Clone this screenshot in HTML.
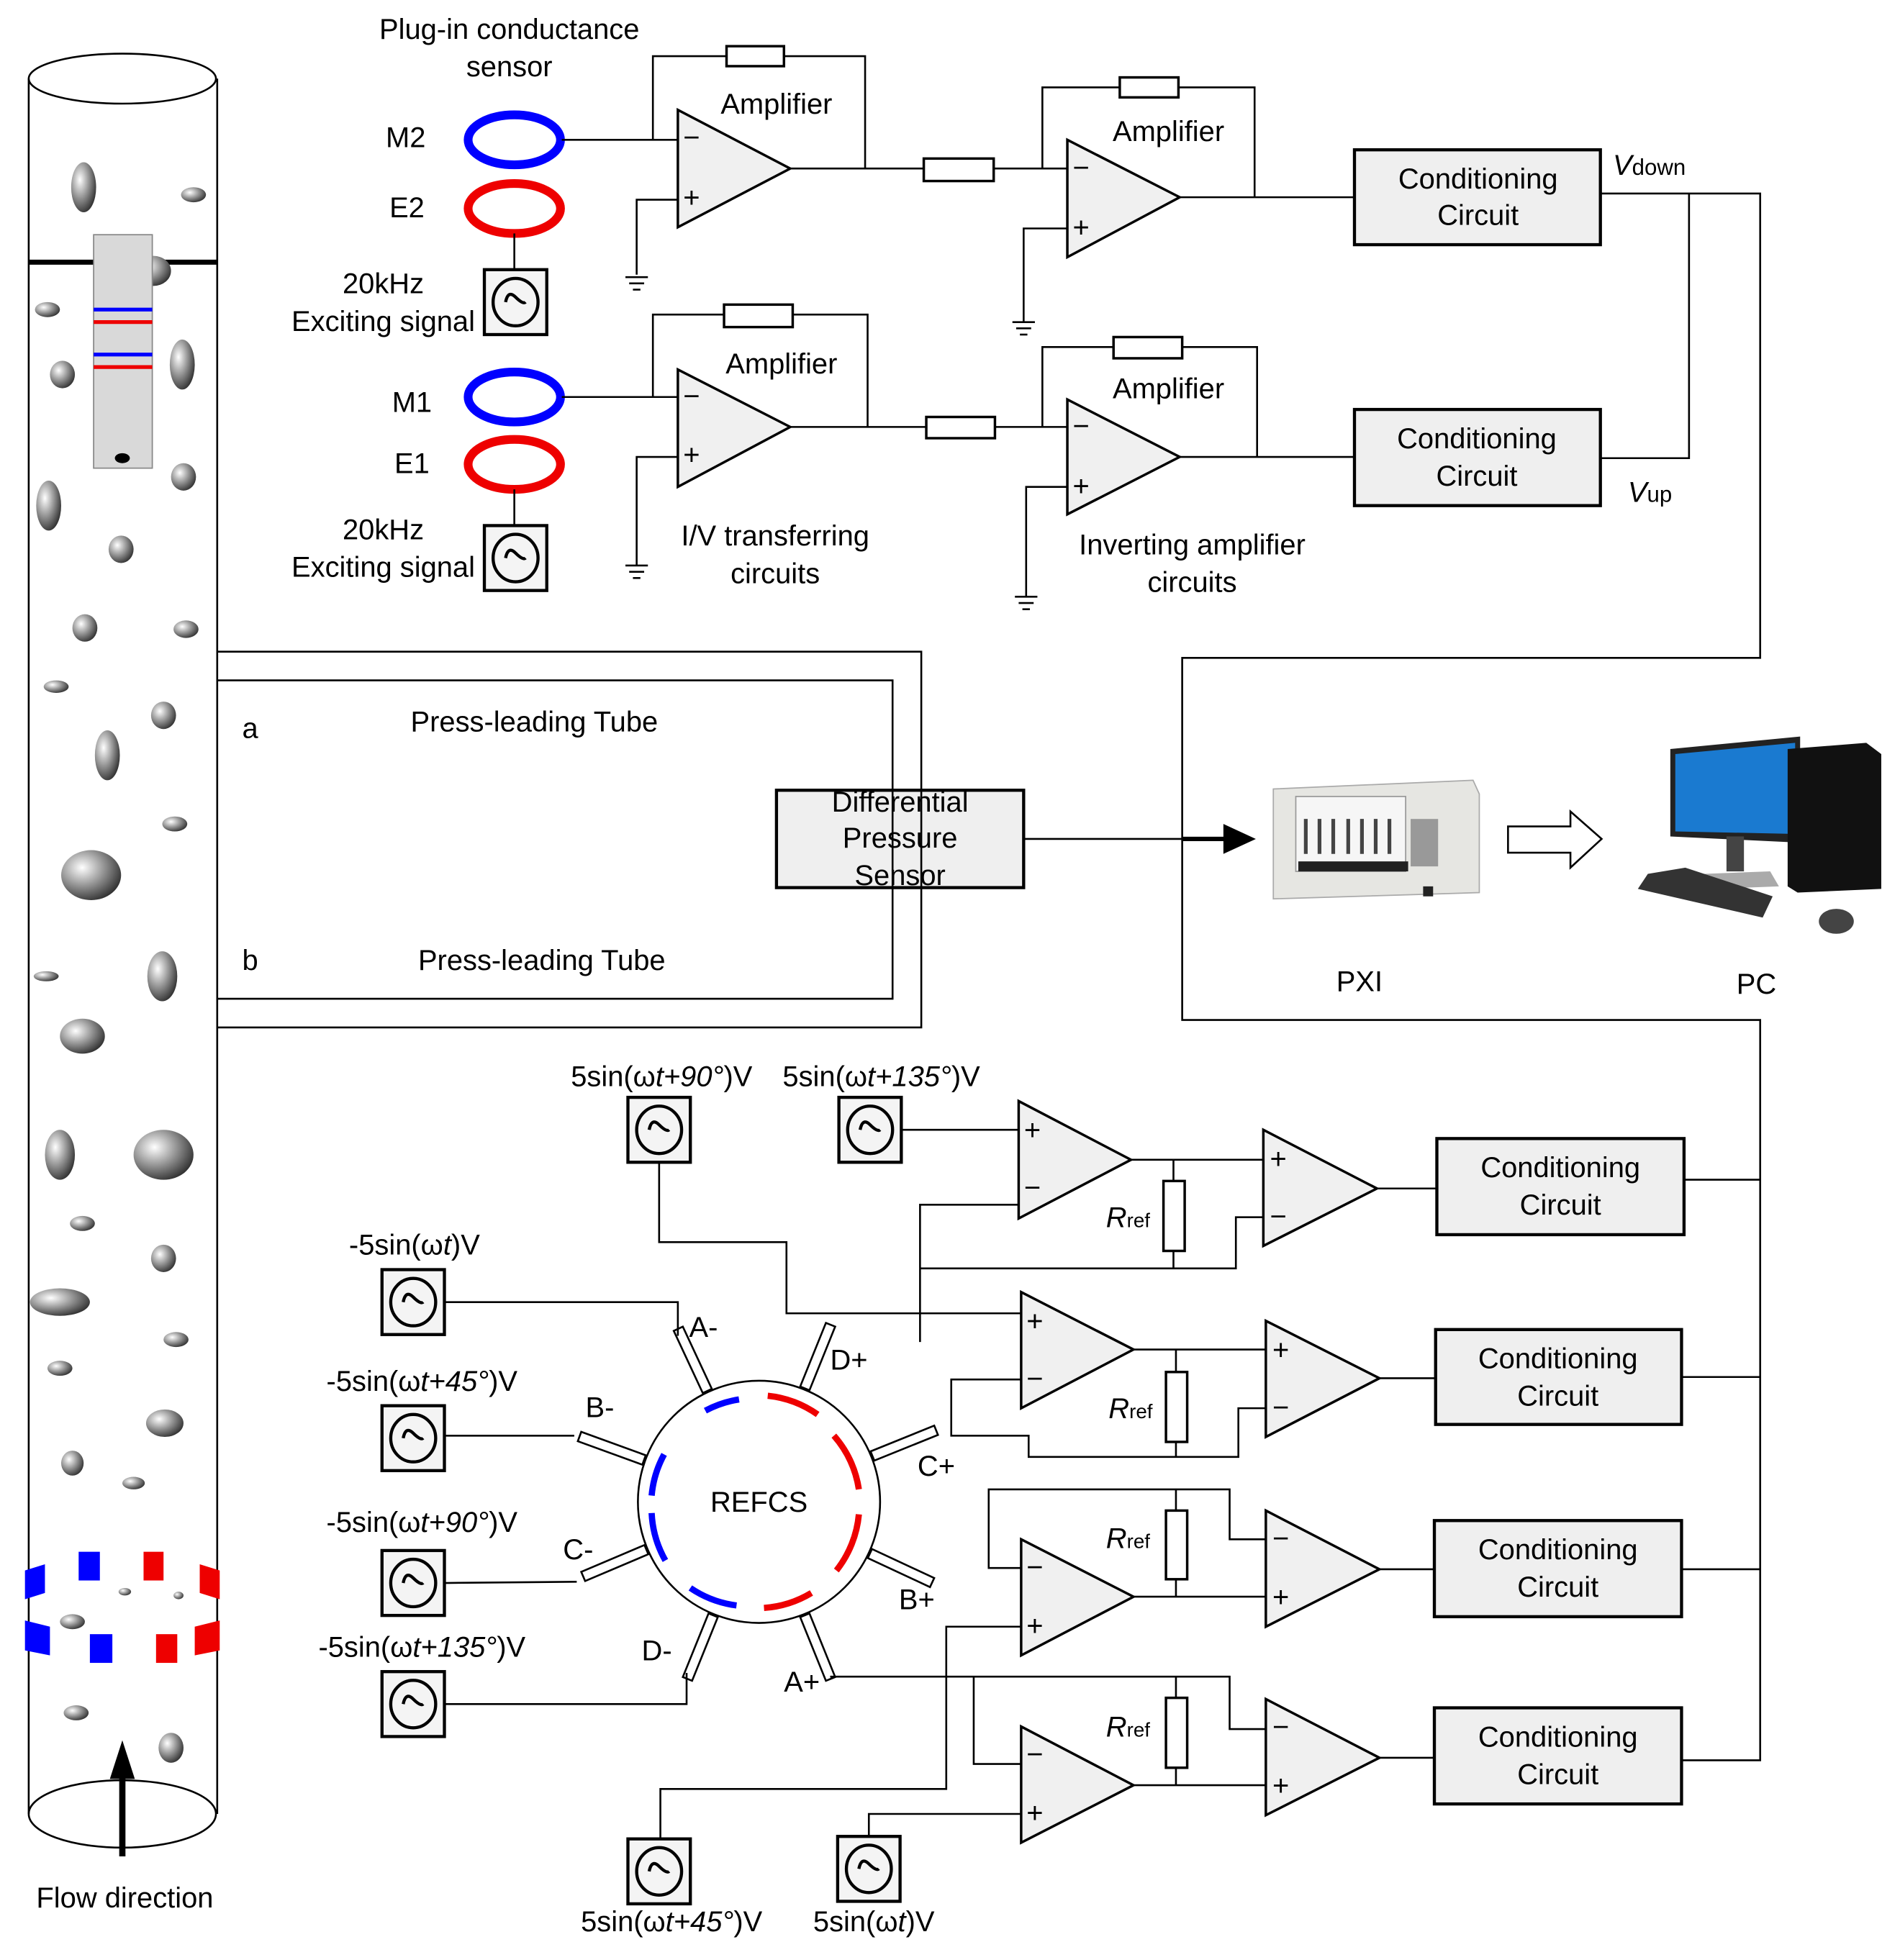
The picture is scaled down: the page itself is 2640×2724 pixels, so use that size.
<!DOCTYPE html>
<html><head><meta charset="utf-8"><style>
html,body{margin:0;padding:0;background:#fff}
svg{display:block}
text{font-family:"Liberation Sans",sans-serif;font-size:23px;fill:#000}
.c{text-anchor:middle}
</style></head><body>
<svg width="2640" height="2724" viewBox="0 0 1522 1570" preserveAspectRatio="none" xmlns="http://www.w3.org/2000/svg">
<defs>
<radialGradient id="bg" cx="0.35" cy="0.35" r="0.7"><stop offset="0" stop-color="#fff"/><stop offset="0.5" stop-color="#999"/><stop offset="1" stop-color="#333"/></radialGradient>
<g id="src"><rect x="0" y="0" width="50" height="52" fill="#f4f4f4" stroke="#000" stroke-width="2.5"/><ellipse cx="25" cy="26" rx="18" ry="19" fill="none" stroke="#000" stroke-width="2.5"/><path d="M17 26 Q19 16 25 22 T33 26" fill="none" stroke="#000" stroke-width="2.5"/></g>
<g id="gnd" stroke="#000" stroke-width="1.5"><line x1="-9" y1="0" x2="9" y2="0"/><line x1="-6" y1="5" x2="6" y2="5"/><line x1="-3" y1="10" x2="3" y2="10"/></g>
</defs>
<g fill="none" stroke="#000" stroke-width="1.5">
<ellipse cx="98" cy="63" rx="75" ry="20"/>
<line x1="23" y1="63" x2="23" y2="1453"/><line x1="174" y1="63" x2="174" y2="1453"/>
<ellipse cx="98" cy="1453" rx="75" ry="27"/>
</g>
<line x1="23" y1="210" x2="174" y2="210" stroke="#000" stroke-width="4"/>
<g fill="url(#bg)">
<ellipse cx="67" cy="150" rx="10" ry="20"/><ellipse cx="155" cy="156" rx="10" ry="6"/><ellipse cx="38" cy="248" rx="10" ry="6"/><ellipse cx="50" cy="300" rx="10" ry="11"/><ellipse cx="146" cy="292" rx="10" ry="20"/><ellipse cx="147" cy="382" rx="10" ry="11"/><ellipse cx="39" cy="405" rx="10" ry="20"/><ellipse cx="97" cy="440" rx="10" ry="11"/><ellipse cx="68" cy="503" rx="10" ry="11"/><ellipse cx="149" cy="504" rx="10" ry="7"/><ellipse cx="45" cy="550" rx="10" ry="5"/><ellipse cx="131" cy="573" rx="10" ry="11"/><ellipse cx="86" cy="605" rx="10" ry="20"/><ellipse cx="140" cy="660" rx="10" ry="6"/><ellipse cx="73" cy="701" rx="24" ry="20"/><ellipse cx="130" cy="782" rx="12" ry="20"/><ellipse cx="37" cy="782" rx="10" ry="4"/><ellipse cx="66" cy="830" rx="18" ry="14"/><ellipse cx="48" cy="925" rx="12" ry="20"/><ellipse cx="131" cy="925" rx="24" ry="20"/><ellipse cx="66" cy="980" rx="10" ry="6"/><ellipse cx="131" cy="1008" rx="10" ry="11"/><ellipse cx="48" cy="1043" rx="24" ry="11"/><ellipse cx="141" cy="1073" rx="10" ry="6"/><ellipse cx="48" cy="1096" rx="10" ry="6"/><ellipse cx="132" cy="1140" rx="15" ry="11"/><ellipse cx="58" cy="1172" rx="9" ry="10"/><ellipse cx="107" cy="1188" rx="9" ry="5"/><ellipse cx="61" cy="1372" rx="10" ry="6"/><ellipse cx="137" cy="1400" rx="10" ry="12"/><ellipse cx="100" cy="1275" rx="5" ry="3"/><ellipse cx="143" cy="1278" rx="4" ry="3"/><ellipse cx="58" cy="1299" rx="10" ry="6"/><ellipse cx="123" cy="217" rx="14" ry="12"/>
</g>
<rect x="75" y="188" width="47" height="187" fill="#d9d9d9" stroke="#888" stroke-width="1"/>
<line x1="75" y1="248" x2="122" y2="248" stroke="#00f" stroke-width="3"/><line x1="75" y1="258" x2="122" y2="258" stroke="#e00" stroke-width="3"/>
<line x1="75" y1="284" x2="122" y2="284" stroke="#00f" stroke-width="3"/><line x1="75" y1="294" x2="122" y2="294" stroke="#e00" stroke-width="3"/>
<ellipse cx="98" cy="367" rx="6" ry="4" fill="#000"/>
<g fill="#00f"><polygon points="20,1258 36,1253 36,1276 20,1281"/><rect x="63" y="1243" width="17" height="23"/><polygon points="20,1298 40,1303 40,1326 20,1322"/><rect x="72" y="1309" width="18" height="23"/></g>
<g fill="#e00"><rect x="115" y="1243" width="16" height="23"/><polygon points="160,1253 176,1258 176,1281 160,1276"/><rect x="125" y="1309" width="17" height="23"/><polygon points="156,1303 176,1298 176,1322 156,1326"/></g>
<line x1="98" y1="1487" x2="98" y2="1420" stroke="#000" stroke-width="5"/><polygon points="98,1394 88,1425 108,1425" fill="#000"/>
<text x="100" y="1528" class="c">Flow direction</text>

<g fill="none" stroke-width="7"><ellipse cx="412" cy="112" rx="37" ry="20" stroke="#00f"/><ellipse cx="412" cy="167" rx="37" ry="20" stroke="#e00"/><ellipse cx="412" cy="318" rx="37" ry="20" stroke="#00f"/><ellipse cx="412" cy="372" rx="37" ry="20" stroke="#e00"/></g>
<use href="#src" x="388" y="216"/><use href="#src" x="388" y="421"/>
<line x1="412" y1="187" x2="412" y2="216" stroke="#000" stroke-width="1.5"/><line x1="412" y1="392" x2="412" y2="421" stroke="#000" stroke-width="1.5"/>
<g fill="#f0f0f0" stroke="#000" stroke-width="2">
<polygon points="543,88 543,182 633,135"/><polygon points="855,112 855,206 945,158"/>
<polygon points="543,296 543,390 633,342"/><polygon points="855,320 855,412 945,366"/>
</g>
<g fill="none" stroke="#000" stroke-width="1.5">
<polyline points="450,112 543,112"/><polyline points="523,112 523,45 693,45 693,135"/><polyline points="543,160 510,160 510,220"/>
<polyline points="633,135 855,135"/><polyline points="835,135 835,70 1005,70 1005,158"/><polyline points="855,183 820,183 820,258"/>
<polyline points="945,158 1085,158"/>
<polyline points="450,318 543,318"/><polyline points="523,318 523,252 695,252 695,342"/><polyline points="543,366 510,366 510,453"/>
<polyline points="633,342 855,342"/><polyline points="835,342 835,278 1007,278 1007,366"/><polyline points="855,390 822,390 822,478"/>
<polyline points="945,366 1085,366"/>
<polyline points="1282,155 1410,155 1410,527 947,527 947,817 1410,817 1410,1410 1347,1410"/>
<polyline points="1282,367 1353,367 1353,155"/>
<line x1="1349" y1="945" x2="1410" y2="945"/><line x1="1347" y1="1103" x2="1410" y2="1103"/><line x1="1347" y1="1257" x2="1410" y2="1257"/>
</g>
<g fill="#fff" stroke="#000" stroke-width="2">
<rect x="582" y="37" width="46" height="16"/><rect x="740" y="127" width="56" height="18"/><rect x="897" y="62" width="47" height="16"/>
<rect x="580" y="244" width="55" height="18"/><rect x="742" y="334" width="55" height="17"/><rect x="892" y="270" width="55" height="17"/>
</g>
<use href="#gnd" x="510" y="222"/><use href="#gnd" x="820" y="258"/><use href="#gnd" x="510" y="453"/><use href="#gnd" x="822" y="478"/>
<g fill="#efefef" stroke="#000" stroke-width="2.5">
<rect x="1085" y="120" width="197" height="76"/><rect x="1085" y="328" width="197" height="77"/>
<rect x="622" y="633" width="198" height="78"/>
<rect x="1151" y="912" width="198" height="77"/><rect x="1150" y="1065" width="197" height="76"/><rect x="1149" y="1218" width="198" height="77"/><rect x="1149" y="1368" width="198" height="77"/>
</g>
<text x="408" y="31" class="c">Plug-in conductance</text><text x="408" y="61" class="c">sensor</text>
<text x="622" y="91" class="c">Amplifier</text><text x="936" y="113" class="c">Amplifier</text><text x="626" y="299" class="c">Amplifier</text><text x="936" y="319" class="c">Amplifier</text>
<text x="325" y="118" class="c">M2</text><text x="326" y="174" class="c">E2</text><text x="307" y="235" class="c">20kHz</text><text x="307" y="265" class="c">Exciting signal</text>
<text x="330" y="330" class="c">M1</text><text x="330" y="379" class="c">E1</text><text x="307" y="432" class="c">20kHz</text><text x="307" y="462" class="c">Exciting signal</text>
<text x="621" y="437" class="c">I/V transferring</text><text x="621" y="467" class="c">circuits</text>
<text x="955" y="444" class="c">Inverting amplifier</text><text x="955" y="474" class="c">circuits</text>
<text x="1184" y="151" class="c">Conditioning</text><text x="1184" y="180" class="c">Circuit</text>
<text x="1183" y="359" class="c">Conditioning</text><text x="1183" y="389" class="c">Circuit</text>
<text x="1292" y="140" font-style="italic">V<tspan font-style="normal" font-size="18">down</tspan></text>
<text x="1304" y="402" font-style="italic">V<tspan font-style="normal" font-size="18">up</tspan></text>
<g fill="none" stroke="#000" stroke-width="1.5">
<polyline points="174,522 738,522 738,823 174,823"/><polyline points="174,545 715,545 715,800 174,800"/>
<line x1="820" y1="672" x2="980" y2="672"/>
</g>
<line x1="947" y1="672" x2="982" y2="672" stroke="#000" stroke-width="3.5"/><polygon points="1006,672 980,660 980,684" fill="#000"/>
<text x="721" y="650" class="c">Differential</text><text x="721" y="679" class="c">Pressure</text><text x="721" y="709" class="c">Sensor</text>
<text x="194" y="591" font-size="34">a</text><text x="194" y="777" font-size="34">b</text>
<text x="428" y="586" class="c">Press-leading Tube</text><text x="434" y="777" class="c">Press-leading Tube</text>
<polygon points="1020,632 1180,625 1185,636 1185,715 1020,720" fill="#e6e6e2" stroke="#aaa"/>
<rect x="1038" y="638" width="88" height="60" fill="#f6f6f6" stroke="#999"/>
<g stroke="#444" stroke-width="3"><line x1="1046" y1="656" x2="1046" y2="684"/><line x1="1057" y1="656" x2="1057" y2="684"/><line x1="1068" y1="656" x2="1068" y2="684"/><line x1="1080" y1="656" x2="1080" y2="684"/><line x1="1091" y1="656" x2="1091" y2="684"/><line x1="1102" y1="656" x2="1102" y2="684"/><line x1="1113" y1="656" x2="1113" y2="684"/></g>
<rect x="1040" y="690" width="88" height="8" fill="#222"/>
<rect x="1130" y="656" width="22" height="38" fill="#999"/>
<rect x="1140" y="710" width="8" height="8" fill="#222"/>
<polygon points="1208,662 1258,662 1258,650 1283,672 1258,695 1258,683 1208,683" fill="#fff" stroke="#000" stroke-width="1.5"/>
<polygon points="1338,600 1442,590 1442,675 1338,670" fill="#222"/><polygon points="1342,604 1438,595 1438,668 1342,666" fill="#1a7ad0"/>
<rect x="1383" y="670" width="14" height="28" fill="#444"/><polygon points="1365,700 1418,698 1425,710 1372,712" fill="#aaa"/>
<polygon points="1432,600 1495,595 1507,604 1507,712 1440,715 1432,710" fill="#111"/>
<polygon points="1320,700 1350,695 1420,718 1412,735 1312,712" fill="#333"/>
<ellipse cx="1471" cy="738" rx="14" ry="10" fill="#444"/>
<text x="1089" y="794" class="c">PXI</text><text x="1407" y="796" class="c">PC</text>

<circle cx="608" cy="1203" r="97" fill="none" stroke="#000" stroke-width="1.5"/>
<g transform="translate(608,1203)" fill="#fff" stroke="#000" stroke-width="1.5">
<rect x="98" y="-4" width="55" height="8" transform="rotate(-115)"/><rect x="98" y="-4" width="55" height="8" transform="rotate(-68)"/><rect x="98" y="-4" width="55" height="8" transform="rotate(-22)"/><rect x="98" y="-4" width="55" height="8" transform="rotate(25)"/><rect x="98" y="-4" width="55" height="8" transform="rotate(68)"/><rect x="98" y="-4" width="55" height="8" transform="rotate(112)"/><rect x="98" y="-4" width="55" height="8" transform="rotate(157)"/><rect x="98" y="-4" width="55" height="8" transform="rotate(-160)"/>
</g>
<g fill="none" stroke-width="5">
<path d="M565,1130 A85,85 0 0 1 592,1121" stroke="#00f"/>
<path d="M615,1118 A85,85 0 0 1 655,1133" stroke="#e00"/>
<path d="M668,1150 A85,85 0 0 1 688,1193" stroke="#e00"/>
<path d="M688,1213 A85,85 0 0 1 670,1258" stroke="#e00"/>
<path d="M650,1276 A85,85 0 0 1 612,1288" stroke="#e00"/>
<path d="M590,1286 A85,85 0 0 1 553,1272" stroke="#00f"/>
<path d="M532,1165 A85,85 0 0 0 522,1198" stroke="#00f"/>
<path d="M522,1212 A85,85 0 0 0 533,1250" stroke="#00f"/>
</g>
<text x="608" y="1211" class="c">REFCS</text>
<text x="552" y="1071">A-</text><text x="665" y="1097">D+</text><text x="735" y="1182">C+</text><text x="720" y="1289">B+</text><text x="628" y="1355">A+</text><text x="514" y="1330">D-</text><text x="451" y="1249">C-</text><text x="469" y="1135">B-</text>
<use href="#src" x="503" y="879"/><use href="#src" x="672" y="879"/><use href="#src" x="306" y="1017"/><use href="#src" x="306" y="1126"/><use href="#src" x="306" y="1242"/><use href="#src" x="306" y="1339"/><use href="#src" x="503" y="1473"/><use href="#src" x="671" y="1471"/>
<text x="530" y="870" class="c">5sin(ω<tspan font-style="italic">t+90°</tspan>)V</text>
<text x="706" y="870" class="c">5sin(ω<tspan font-style="italic">t+135°</tspan>)V</text>
<text x="332" y="1005" class="c">-5sin(ω<tspan font-style="italic">t</tspan>)V</text>
<text x="338" y="1114" class="c">-5sin(ω<tspan font-style="italic">t+45°</tspan>)V</text>
<text x="338" y="1227" class="c">-5sin(ω<tspan font-style="italic">t+90°</tspan>)V</text>
<text x="338" y="1327" class="c">-5sin(ω<tspan font-style="italic">t+135°</tspan>)V</text>
<text x="538" y="1547" class="c">5sin(ω<tspan font-style="italic">t+45°</tspan>)V</text>
<text x="700" y="1547" class="c">5sin(ω<tspan font-style="italic">t</tspan>)V</text>
<g fill="#f0f0f0" stroke="#000" stroke-width="2">
<polygon points="816,882 816,976 906,929"/><polygon points="1012,905 1012,998 1103,952"/>
<polygon points="818,1035 818,1128 908,1081"/><polygon points="1014,1058 1014,1151 1105,1104"/>
<polygon points="818,1233 818,1326 908,1279"/><polygon points="1014,1210 1014,1303 1105,1257"/>
<polygon points="818,1383 818,1476 908,1430"/><polygon points="1014,1361 1014,1454 1105,1408"/>
</g>
<g fill="none" stroke="#000" stroke-width="1.5">
<polyline points="722,905 816,905"/><polyline points="816,965 737,965 737,1075"/><polyline points="906,929 1012,929"/><line x1="940" y1="929" x2="940" y2="1016"/><polyline points="737,1016 990,1016 990,975 1012,975"/><line x1="1103" y1="952" x2="1151" y2="952"/>
<polyline points="528,931 528,995 630,995 630,1052 818,1052"/>
<polyline points="818,1105 762,1105 762,1150 824,1150 824,1167 992,1167 992,1128 1014,1128"/><polyline points="908,1081 1014,1081"/><line x1="942" y1="1081" x2="942" y2="1167"/><line x1="1105" y1="1104" x2="1150" y2="1104"/>
<polyline points="818,1256 792,1256 792,1193 985,1193 985,1233 1014,1233"/><line x1="942" y1="1193" x2="942" y2="1279"/><polyline points="908,1279 1014,1279"/><line x1="1105" y1="1257" x2="1149" y2="1257"/>
<polyline points="818,1303 758,1303 758,1433 529,1433 529,1473"/>
<polyline points="665,1343 985,1343 985,1385 1014,1385"/><polyline points="780,1343 780,1413 818,1413"/><line x1="942" y1="1343" x2="942" y2="1430"/><polyline points="908,1430 1014,1430"/><line x1="1105" y1="1408" x2="1149" y2="1408"/>
<polyline points="696,1471 696,1453 818,1453"/>
<polyline points="356,1043 543,1043 543,1070"/><polyline points="356,1150 460,1150"/><polyline points="356,1268 462,1267"/><polyline points="356,1365 550,1365 550,1340"/>
</g>
<g fill="#fff" stroke="#000" stroke-width="2">
<rect x="932" y="946" width="17" height="56"/><rect x="934" y="1099" width="17" height="56"/><rect x="934" y="1210" width="17" height="55"/><rect x="934" y="1360" width="17" height="56"/>
</g>
<g font-size="22">
<text x="827" y="913" class="c">+</text><text x="827" y="959" class="c">−</text><text x="1024" y="936" class="c">+</text><text x="1024" y="982" class="c">−</text>
<text x="829" y="1066" class="c">+</text><text x="829" y="1112" class="c">−</text><text x="1026" y="1089" class="c">+</text><text x="1026" y="1135" class="c">−</text>
<text x="829" y="1263" class="c">−</text><text x="829" y="1310" class="c">+</text><text x="1026" y="1240" class="c">−</text><text x="1026" y="1287" class="c">+</text>
<text x="829" y="1413" class="c">−</text><text x="829" y="1460" class="c">+</text><text x="1026" y="1391" class="c">−</text><text x="1026" y="1438" class="c">+</text>
<text x="554" y="118" class="c">−</text><text x="554" y="166" class="c">+</text><text x="866" y="142" class="c">−</text><text x="866" y="190" class="c">+</text>
<text x="554" y="325" class="c">−</text><text x="554" y="372" class="c">+</text><text x="866" y="349" class="c">−</text><text x="866" y="397" class="c">+</text>
</g>
<text x="886" y="983" font-style="italic">R<tspan font-style="normal" font-size="16">ref</tspan></text>
<text x="888" y="1136" font-style="italic">R<tspan font-style="normal" font-size="16">ref</tspan></text>
<text x="886" y="1240" font-style="italic">R<tspan font-style="normal" font-size="16">ref</tspan></text>
<text x="886" y="1391" font-style="italic">R<tspan font-style="normal" font-size="16">ref</tspan></text>
<text x="1250" y="943" class="c">Conditioning</text><text x="1250" y="973" class="c">Circuit</text>
<text x="1248" y="1096" class="c">Conditioning</text><text x="1248" y="1126" class="c">Circuit</text>
<text x="1248" y="1249" class="c">Conditioning</text><text x="1248" y="1279" class="c">Circuit</text>
<text x="1248" y="1399" class="c">Conditioning</text><text x="1248" y="1429" class="c">Circuit</text>
</svg>
</body></html>
